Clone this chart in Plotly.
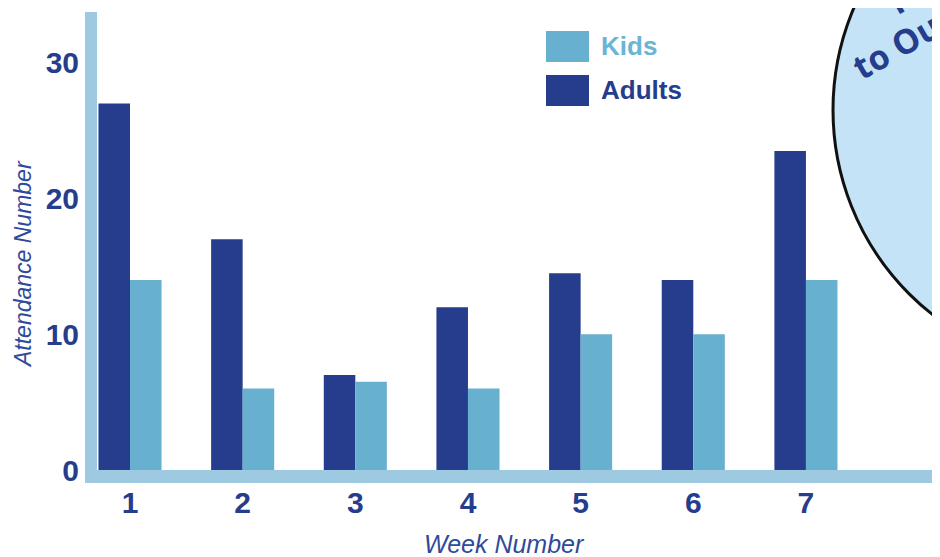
import plotly.graph_objects as go

weeks = ["1", "2", "3", "4", "5", "6", "7"]
adults = [27, 17, 7, 12, 14.5, 14, 23.5]
kids = [14, 6, 6.5, 6, 10, 10, 14]
y_ticks = [0, 10, 20, 30]

DARK = "#253d8c"
LIGHT = "#68b0d0"
AXIS = "#9dcae0"
TITLE = "#2f4a9a"

# page is rendered with an 8px body margin
OX, OY = 8, 8
W, H = 940 - OX, 557 - OY
# plot area in page pixels
PL, PR, PT, PB = 97, 940, 12, 470
L, R, T = PL - OX, 0, PT - OY
B = H - (PB - OY)
PW, PH = W - L - R, H - T - B


def px(x):
    return (x - PL) / PW


def py(y):
    return (PB - y) / PH


fig = go.Figure()
fig.add_trace(go.Bar(x=weeks, y=adults, name="Adults", marker=dict(color=DARK, line=dict(width=0))))
fig.add_trace(go.Bar(x=weeks, y=kids, name="Kids", marker=dict(color=LIGHT, line=dict(width=0))))

shapes = [
    dict(type="circle", xref="paper", yref="paper", x0=px(833), x1=px(1353), y0=py(370), y1=py(-150),
         fillcolor="#c5e3f7", line=dict(color="#111111", width=3), layer="below"),
    dict(type="rect", xref="paper", yref="paper", x0=px(85), x1=px(97), y0=py(483), y1=py(12),
         fillcolor=AXIS, line=dict(width=0)),
    dict(type="rect", xref="paper", yref="paper", x0=px(88), x1=px(945), y0=py(483), y1=py(470),
         fillcolor=AXIS, line=dict(width=0)),
    dict(type="rect", xref="paper", yref="paper", x0=px(546), x1=px(589), y0=py(62), y1=py(31),
         fillcolor=LIGHT, line=dict(width=0)),
    dict(type="rect", xref="paper", yref="paper", x0=px(546), x1=px(589), y0=py(106), y1=py(75),
         fillcolor=DARK, line=dict(width=0)),
]

annotations = [
    dict(text="Kids", x=px(599), y=py(46), xref="paper", yref="paper", xanchor="left", yanchor="middle",
         showarrow=False, font=dict(family="Liberation Sans", size=26, color="#6ab4d4", weight="bold")),
    dict(text="Adults", x=px(599), y=py(90), xref="paper", yref="paper", xanchor="left", yanchor="middle",
         showarrow=False, font=dict(family="Liberation Sans", size=26, color=DARK, weight="bold")),
    dict(text="to Our", x=px(903), y=py(42), xref="paper", yref="paper", xanchor="center", yanchor="middle",
         textangle=-30, showarrow=False, font=dict(family="Open Sans", size=34, color=DARK, weight="bold")),
    dict(text="Thanks", x=px(940), y=py(-24), xref="paper", yref="paper", xanchor="center", yanchor="middle",
         textangle=-30, showarrow=False, font=dict(family="Open Sans", size=34, color=DARK, weight="bold")),
    # axis titles
    dict(text="Attendance Number", x=px(23), y=py(264), xref="paper", yref="paper", xanchor="center",
         yanchor="middle", textangle=-90, showarrow=False, borderpad=0,
         font=dict(family="Liberation Sans", size=23, color=TITLE, style="italic")),
    dict(text="Week Number", x=px(504), y=py(544), xref="paper", yref="paper", xanchor="center",
         yanchor="middle", showarrow=False, borderpad=0,
         font=dict(family="Liberation Sans", size=25, color=TITLE, style="italic")),
]

fig.update_layout(
    width=W, height=H,
    margin=dict(l=L, r=R, t=T, b=B, pad=0),
    paper_bgcolor="white", plot_bgcolor="rgba(0,0,0,0)",
    barmode="group", bargap=0.44, bargroupgap=0,
    showlegend=False,
    shapes=shapes, annotations=annotations,
    xaxis=dict(type="category", range=[-0.293, 7.19], showgrid=False, zeroline=False, showline=False,
               ticks="", ticklabelstandoff=12,
               tickfont=dict(family="Liberation Sans Narrow, Liberation Sans", size=30, color=DARK, weight="bold")),
    yaxis=dict(range=[0, 33.75], tickvals=y_ticks, ticktext=[str(v) for v in y_ticks],
               showgrid=False, zeroline=False, showline=False, ticks="", ticklabelstandoff=17,
               tickfont=dict(family="Liberation Sans", size=30, color=DARK, weight="bold")),
)

fig.write_html("out.html")
